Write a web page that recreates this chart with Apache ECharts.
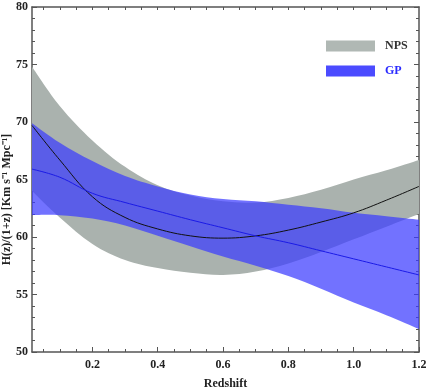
<!DOCTYPE html>
<html><head><meta charset="utf-8">
<script src="https://cdn.jsdelivr.net/npm/echarts@6/dist/echarts.min.js"></script>
<style>html,body{margin:0;padding:0;background:#fff}#c{width:427px;height:392px}</style>
</head><body><div id="c"></div>
<script>
const redshift = [0.015, 0.1, 0.2, 0.3, 0.4, 0.5, 0.6, 0.7, 0.8, 0.9, 1.0, 1.1, 1.2];
const npsCenter = [69.7, 66.7, 63.5, 61.7, 60.7, 60.1, 59.9, 60.1, 60.6, 61.3, 62.1, 63.2, 64.4];
const npsUpper  = [74.8, 71.4, 68.4, 66.1, 64.5, 63.6, 63.1, 63.0, 63.4, 64.1, 65.0, 65.8, 66.7];
const npsLower  = [64.0, 61.7, 59.4, 58.0, 57.3, 56.9, 56.7, 57.0, 57.7, 58.7, 59.8, 60.9, 62.0];
const gpCenter  = [65.9, 65.2, 63.8, 63.0, 62.25, 61.5, 60.8, 60.1, 59.5, 58.8, 58.1, 57.4, 56.7];
const gpUpper   = [69.9, 68.2, 66.6, 65.3, 64.4, 63.7, 63.3, 63.1, 62.8, 62.5, 62.1, 61.8, 61.5];
const gpLower   = [61.9, 61.9, 61.6, 61.0, 60.1, 59.2, 58.3, 57.5, 56.6, 55.5, 54.3, 53.2, 52.0];
const xTickLabels = [0.2, 0.4, 0.6, 0.8, 1.0, 1.2];
const xMinorTicks = [0.05, 0.1, 0.15, 0.2, 0.25, 0.3, 0.35, 0.4, 0.45, 0.5, 0.55, 0.6, 0.65, 0.7, 0.75, 0.8, 0.85, 0.9, 0.95, 1.0, 1.05, 1.1, 1.15];

const pairs = (ys) => redshift.map((x, i) => [x, ys[i]]);

const font = {fontFamily: 'Liberation Serif', fontWeight: 'bold', fontSize: 12, color: '#222'};
const axLine = {lineStyle: {color: '#555', width: 1.5}};
const XMIN = 0.015, XMAX = 1.2;

// cardinal-spline path through pixel points (rendering only)
function splineSeg(pts, start) {
  let d = (start ? 'M' : 'L') + pts[0][0] + ',' + pts[0][1];
  const t = 0.18;
  for (let i = 0; i < pts.length - 1; i++) {
    const p0 = pts[Math.max(i - 1, 0)], p1 = pts[i], p2 = pts[i + 1], p3 = pts[Math.min(i + 2, pts.length - 1)];
    const c1 = [p1[0] + (p2[0] - p0[0]) * t, p1[1] + (p2[1] - p0[1]) * t];
    const c2 = [p2[0] - (p3[0] - p1[0]) * t, p2[1] - (p3[1] - p1[1]) * t];
    d += 'C' + c1[0] + ',' + c1[1] + ',' + c2[0] + ',' + c2[1] + ',' + p2[0] + ',' + p2[1];
  }
  return d;
}
function band(upper, lower, fill) {
  return {
    type: 'custom', silent: true, clip: true, data: [[redshift[0], upper[0]]],
    renderItem: function (params, api) {
      const up = redshift.map((x, i) => api.coord([x, upper[i]]));
      const lo = redshift.map((x, i) => api.coord([x, lower[i]])).reverse();
      const d = splineSeg(up, true) + splineSeg(lo, false) + 'Z';
      return {type: 'path', shape: {pathData: d}, style: {fill: fill, stroke: null}};
    }
  };
}

const chart = echarts.init(document.getElementById('c'), null, {renderer: 'canvas'});
chart.setOption({
  animation: false,
  grid: {left: 32, right: 8, top: 7, bottom: 40, outerBoundsMode: 'none', containLabel: false},
  legend: {
    orient: 'vertical', left: 321, top: 35, itemWidth: 49, itemHeight: 11, itemGap: 13,
    icon: 'rect',
    textStyle: Object.assign({}, font, {padding: [0, 0, 0, 5]}),
    data: [
      {name: 'NPS', itemStyle: {color: '#b0b8b4'}, textStyle: {color: '#333'}},
      {name: 'GP', itemStyle: {color: '#4b4bff'}, textStyle: {color: '#2a2aff'}}
    ]
  },
  xAxis: [
    {type: 'value', min: XMIN, max: XMAX, position: 'bottom',
     name: 'Redshift', nameLocation: 'middle', nameGap: 26, nameTextStyle: font, nameMoveOverlap: false,
     axisLine: axLine, splitLine: {show: false},
     axisTick: {inside: true, length: 5, customValues: xTickLabels, lineStyle: {color: '#555'}},
     axisLabel: Object.assign({}, font, {customValues: xTickLabels, margin: 7, formatter: v => v.toFixed(1)})},
    {type: 'value', min: XMIN, max: XMAX, position: 'bottom',
     axisLine: {show: false}, splitLine: {show: false}, axisLabel: {show: false},
     axisTick: {inside: true, length: 3, customValues: xMinorTicks, lineStyle: {color: '#555'}}},
    {type: 'value', min: XMIN, max: XMAX, position: 'top',
     axisLine: axLine, splitLine: {show: false}, axisLabel: {show: false},
     axisTick: {inside: true, length: 3, customValues: xMinorTicks, lineStyle: {color: '#555'}}}
  ],
  yAxis: [
    {type: 'value', min: 50, max: 80, interval: 5, position: 'left',
     name: 'H(z)/(1+z) [Km s\u207B\u00B9 Mpc\u207B\u00B9]', nameLocation: 'middle', nameRotate: 90, nameGap: 19,
     nameTextStyle: Object.assign({}, font, {padding: [0, 40, 0, 0]}), nameMoveOverlap: false,
     axisLine: axLine, splitLine: {show: false},
     axisTick: {inside: true, length: 5, lineStyle: {color: '#555'}},
     minorTick: {show: true, splitNumber: 5, length: 3, lineStyle: {color: '#555'}},
     axisLabel: Object.assign({}, font, {margin: 4})},
    {type: 'value', min: 50, max: 80, interval: 5, position: 'right',
     axisLine: axLine, splitLine: {show: false}, axisLabel: {show: false},
     axisTick: {inside: true, length: 5, lineStyle: {color: '#555'}},
     minorTick: {show: true, splitNumber: 5, length: 3, lineStyle: {color: '#555'}}}
  ],
  series: [
    Object.assign(band(npsUpper, npsLower, '#aab2ae'), {name: 'NPS', itemStyle: {color: '#b0b8b4'}}),
    Object.assign(band(gpUpper, gpLower, 'rgba(60,60,255,0.72)'), {name: 'GP', itemStyle: {color: '#4b4bff'}}),
    {name: 'npsLine', type: 'line', data: pairs(npsCenter), smooth: 0.4, symbol: 'none',
     lineStyle: {color: '#111', width: 1}},
    {name: 'gpLine', type: 'line', data: pairs(gpCenter), smooth: 0.4, symbol: 'none',
     lineStyle: {color: '#1a1ae6', width: 1}}
  ]
});
</script></body></html>
